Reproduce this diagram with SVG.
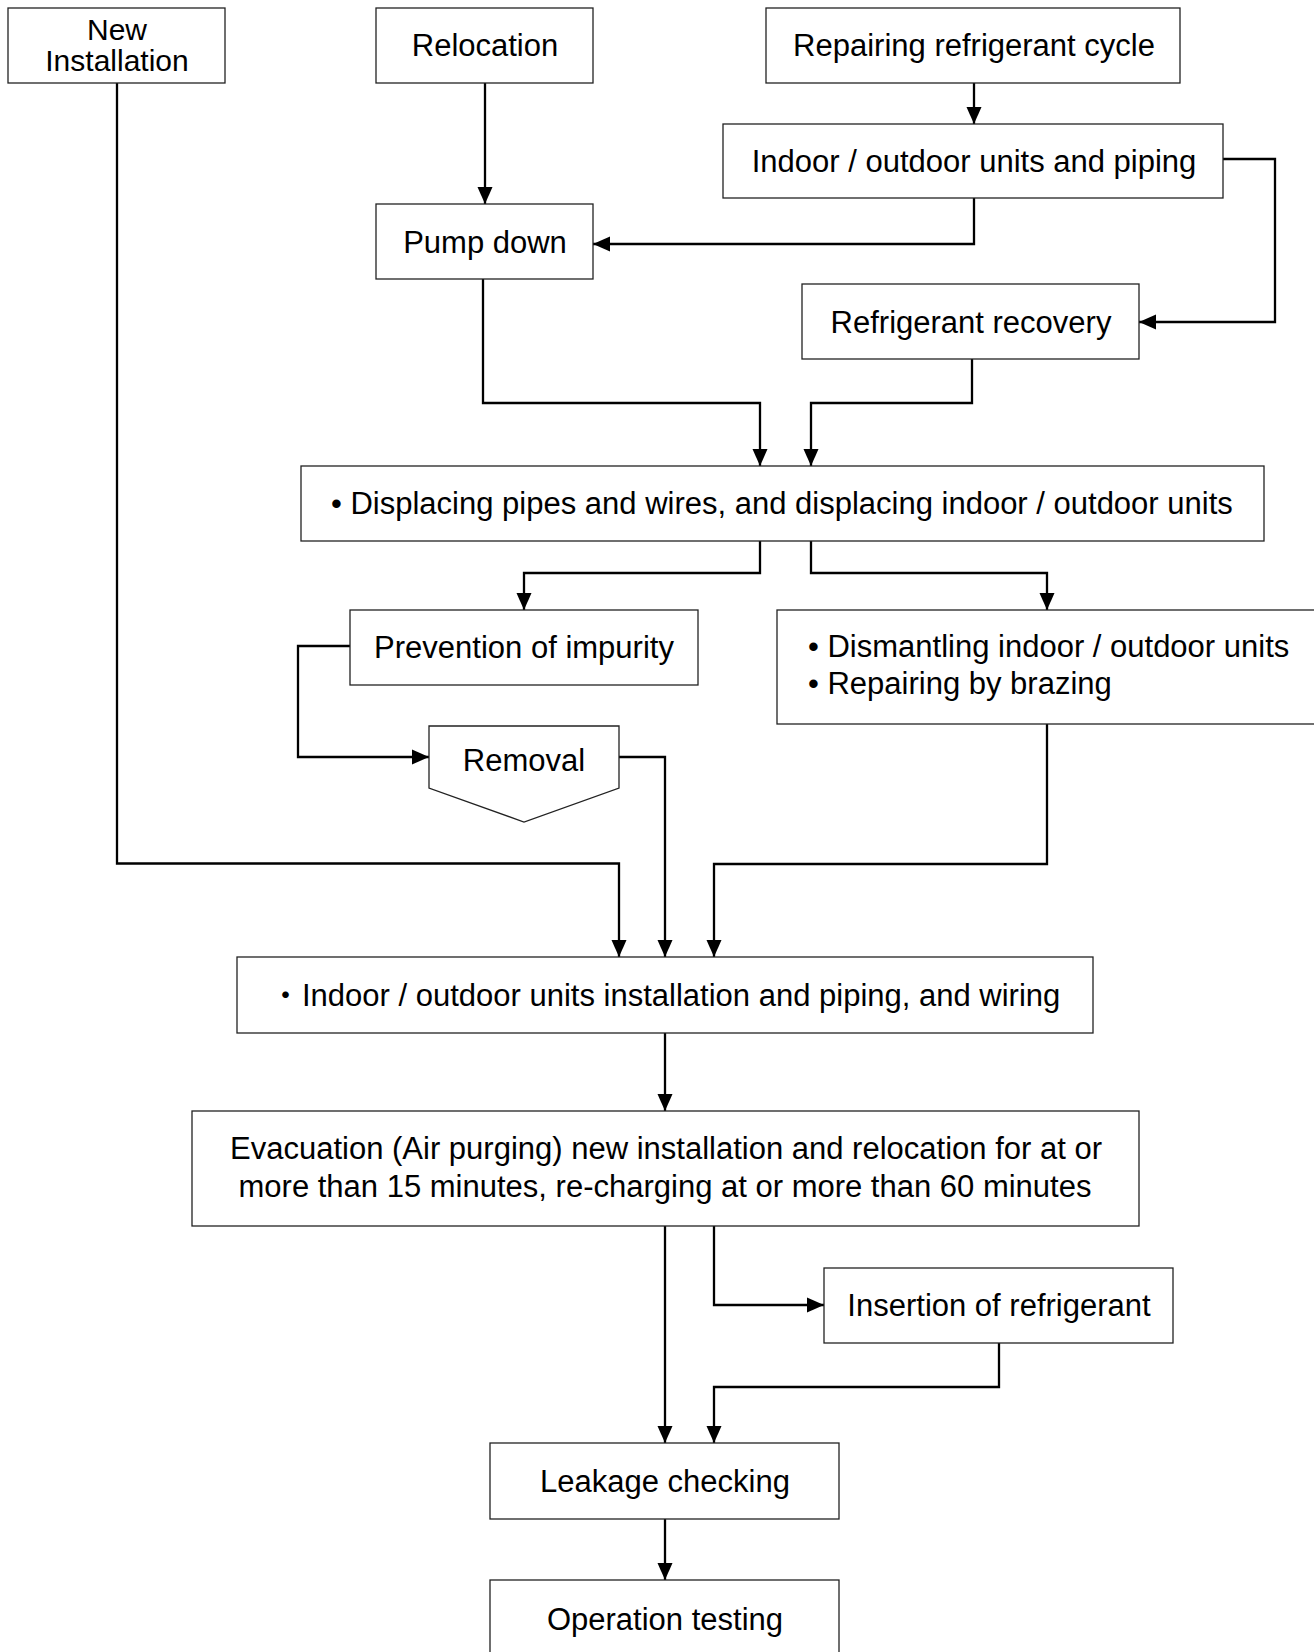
<svg xmlns="http://www.w3.org/2000/svg" width="1314" height="1652" viewBox="0 0 1314 1652">
<style>
.box{fill:#fff;stroke:#222;stroke-width:1.3}
.t{font-family:"Liberation Sans",Arial,Helvetica,sans-serif;font-size:31px;fill:#000}
.c{text-anchor:middle}
.ln{fill:none;stroke:#000;stroke-width:2.3;marker-end:url(#ah)}
</style>
<defs>
<marker id="ah" markerUnits="userSpaceOnUse" markerWidth="18" markerHeight="16" refX="17" refY="7.5" orient="auto" overflow="visible">
<path d="M0,0 L17,7.5 L0,15 z" fill="#000"/>
</marker>
</defs>
<rect width="1314" height="1652" fill="#fff"/>
<g id="connectors">
<path class="ln" d="M117,83 V863.5 H619 V957"/>
<path class="ln" d="M485,83 V204"/>
<path class="ln" d="M974,83 V124"/>
<path class="ln" d="M974,198 V244 H593"/>
<path class="ln" d="M1223,159 H1275 V322 H1139"/>
<path class="ln" d="M483,279 V403 H760 V466"/>
<path class="ln" d="M972,359 V403 H811 V466"/>
<path class="ln" d="M760,541 V573 H524 V610"/>
<path class="ln" d="M811,541 V573 H1047 V610"/>
<path class="ln" d="M350,646 H298 V757 H429"/>
<path class="ln" d="M619,757 H665 V957"/>
<path class="ln" d="M1047,724 V864 H714 V957"/>
<path class="ln" d="M665,1033 V1111"/>
<path class="ln" d="M665,1226 V1443"/>
<path class="ln" d="M714,1226 V1305 H824"/>
<path class="ln" d="M999,1343 V1387 H714 V1443"/>
<path class="ln" d="M665,1519 V1580"/>
</g>
<g id="new-installation">
<rect class="box" x="8" y="8" width="217" height="75"/>
<text class="t c" style="font-size:30px"><tspan x="117" y="39.5">New</tspan><tspan x="117" y="71">Installation</tspan></text>
</g>
<g id="relocation">
<rect class="box" x="376" y="8" width="217" height="75"/>
<text class="t c" x="485" y="56">Relocation</text>
</g>
<g id="repairing">
<rect class="box" x="766" y="8" width="414" height="75"/>
<text class="t c" x="974" y="56">Repairing refrigerant cycle</text>
</g>
<g id="indoor-outdoor">
<rect class="box" x="723" y="124" width="500" height="74"/>
<text class="t c" x="974" y="172">Indoor / outdoor units and piping</text>
</g>
<g id="pump-down">
<rect class="box" x="376" y="204" width="217" height="75"/>
<text class="t c" x="485" y="252.5">Pump down</text>
</g>
<g id="refrigerant-recovery">
<rect class="box" x="802" y="284" width="337" height="75"/>
<text class="t c" x="971" y="332.5">Refrigerant recovery</text>
</g>
<g id="displacing">
<rect class="box" x="301" y="466" width="963" height="75"/>
<text class="t" x="331" y="514">• Displacing pipes and wires, and displacing indoor / outdoor units</text>
</g>
<g id="prevention">
<rect class="box" x="350" y="610" width="348" height="75"/>
<text class="t c" x="524" y="658">Prevention of impurity</text>
</g>
<g id="dismantling">
<rect class="box" x="777" y="610" width="560" height="114"/>
<text class="t"><tspan x="808" y="657">• Dismantling indoor / outdoor units</tspan><tspan x="808" y="694">• Repairing by brazing</tspan></text>
</g>
<g id="removal">
<polygon class="box" points="429,726 619,726 619,788 524,822 429,788"/>
<text class="t c" x="524" y="771">Removal</text>
</g>
<g id="installation">
<rect class="box" x="237" y="957" width="856" height="76"/>
<text class="t" y="1006"><tspan x="270" font-family="'Noto Sans CJK JP',sans-serif">・</tspan><tspan x="302">Indoor / outdoor units installation and piping, and wiring</tspan></text>
</g>
<g id="evacuation">
<rect class="box" x="192" y="1111" width="947" height="115"/>
<text class="t c"><tspan x="666" y="1159">Evacuation (Air purging) new installation and relocation for at or</tspan><tspan x="665" y="1197">more than 15 minutes, re-charging at or more than 60 minutes</tspan></text>
</g>
<g id="insertion">
<rect class="box" x="824" y="1268" width="349" height="75"/>
<text class="t c" x="999" y="1316">Insertion of refrigerant</text>
</g>
<g id="leakage">
<rect class="box" x="490" y="1443" width="349" height="76"/>
<text class="t c" x="665" y="1492">Leakage checking</text>
</g>
<g id="operation">
<rect class="box" x="490" y="1580" width="349" height="80"/>
<text class="t c" x="665" y="1630">Operation testing</text>
</g>
</svg>
